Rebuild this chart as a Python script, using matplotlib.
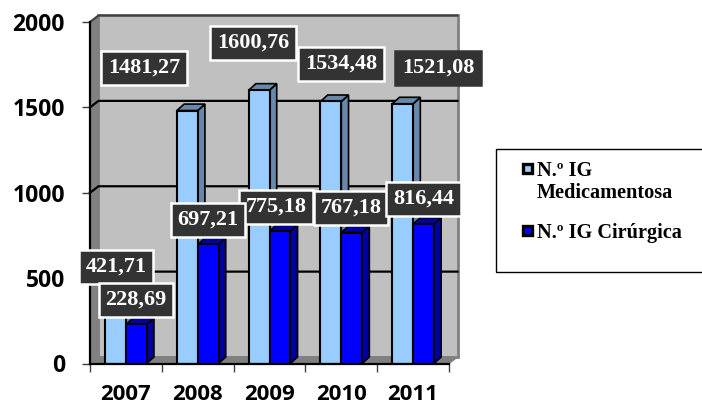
import matplotlib
matplotlib.use("Agg")
import matplotlib.pyplot as plt
from matplotlib.patches import Rectangle, FancyBboxPatch

years = ["2007", "2008", "2009", "2010", "2011"]
medicamentosa = [421.71, 1481.27, 1600.76, 1534.48, 1521.08]
cirurgica = [228.69, 697.21, 775.18, 767.18, 816.44]
y_ticks = [0, 500, 1000, 1500, 2000]

W, H = 702, 407
SERIF = "Liberation Serif"

fig = plt.figure(figsize=(W / 100, H / 100), dpi=100)
# axes front plane, in pixels of the picture
left, right, top, bottom = 90, 449, 22, 363.5
ax = fig.add_axes([left / W, 1 - bottom / H, (right - left) / W, (bottom - top) / H])
ax.set_xlim(0, len(years))
ax.set_ylim(0, 2000)
ax.patch.set_visible(False)

# 3d depth of the chart box, in data units
dx = 8.5 / 71.8
dy = 6.5 / (341.5 / 2000)
n = len(years)

# back wall, side wall and floor
ax.fill([dx, n + dx, n + dx, dx], [dy, dy, 2000 + dy, 2000 + dy], fc="#C0C0C0", ec="#808080", lw=2,
        zorder=1, clip_on=False)
ax.fill([0, dx, dx, 0], [0, dy, 2000 + dy, 2000], fc="#808080", ec="#808080", lw=1, zorder=1.1, clip_on=False)
ax.fill([0, n, n + dx, dx], [0, 0, dy, dy], fc="#808080", ec="#808080", lw=1, zorder=1.1, clip_on=False)
ax.plot([0, dx, n + dx], [2000, 2000 + dy, 2000 + dy], color="#404040", lw=1.5, zorder=1.2, clip_on=False)

# gridlines go along the wall and down the side wall
for v in y_ticks[1:-1]:
    ax.plot([0, dx, n + dx], [v, v + dy, v + dy], color="black", lw=1.6, zorder=1.5, clip_on=False)

bar_w = 0.29


def draw_bars(xs, values, front, side, z):
    ax.bar(xs, values, width=bar_w, align="edge", color=front, edgecolor="black", lw=1.5, zorder=z + 0.1)
    for x, v in zip(xs, values):
        # side face and top face of the bar
        ax.fill([x + bar_w, x + bar_w + dx * 0.85, x + bar_w + dx * 0.85, x + bar_w],
                [0, dy, v + dy, v], fc=side, ec="black", lw=1.2, zorder=z, clip_on=False)
        ax.fill([x, x + dx * 0.85, x + bar_w + dx * 0.85, x + bar_w],
                [v, v + dy, v + dy, v], fc=side, ec="black", lw=1.2, zorder=z, clip_on=False)


draw_bars([i + 0.21 for i in range(n)], medicamentosa, "#99CCFF", "#6688AA", 2)
draw_bars([i + 0.5 for i in range(n)], cirurgica, "#0000FF", "#0000A0", 3)

# axes and ticks
for s in ["top", "right"]:
    ax.spines[s].set_visible(False)
for s in ["left", "bottom"]:
    ax.spines[s].set_linewidth(1.6)
    ax.spines[s].set_zorder(4)
ax.set_yticks(y_ticks)
ax.set_yticklabels([str(v) for v in y_ticks], fontfamily="Open Sans", fontweight="bold", fontsize=16.5)
ax.set_xticks(range(n + 1))
ax.set_xticklabels([])
ax.set_xticks([i + 0.5 for i in range(n)], minor=True)
ax.set_xticklabels(years, minor=True, fontfamily="Open Sans", fontweight="bold", fontsize=16)
ax.tick_params(axis="x", which="major", length=6, width=1, color="#404040")
ax.tick_params(axis="x", which="minor", length=0, pad=15)
ax.tick_params(axis="y", length=6, width=1, color="#404040", pad=12)

# value labels sit where the reference placed them, pixel centres, back to front
label_pos = [
    ("1481,27", 144, 68), ("1600,76", 253, 43), ("1534,48", 341, 64), ("1521,08", 438, 68),
    ("421,71", 116, 267), ("228,69", 136, 300), ("775,18", 276, 207), ("697,21", 208, 220),
    ("767,18", 351, 208), ("816,44", 423.5, 199),
]
for lab, px, py in label_pos:
    edge = "#333333" if lab == "1521,08" else "white"
    fig.text(px / W, 1 - py / H, lab, color="white", fontfamily=SERIF, fontweight="bold", fontsize=16,
             ha="center", va="center", zorder=10,
             bbox=dict(boxstyle="square,pad=0.3", fc="#333333", ec=edge, lw=1.8))

# legend box, runs off the right edge
fig.add_artist(Rectangle((495.5 / W, 1 - 272 / H), 230 / W, 123 / H, transform=fig.transFigure, fc="white",
                         ec="black", lw=1, clip_on=True))
for label, col, ypx, typx in [("N.º IG\nMedicamentosa", "#99CCFF", 169, 161), ("N.º IG Cirúrgica", "#0000FF", 231, 223)]:
    fig.add_artist(FancyBboxPatch((523.5 / W, 1 - (ypx + 4.5) / H), 9 / W, 9 / H, boxstyle="round,pad=0",
                                  transform=fig.transFigure, fc=col, ec="black", lw=2.4))
    fig.text(537 / W, 1 - typx / H, label, color="black", fontfamily=SERIF, fontweight="bold", fontsize=14.6,
             ha="left", va="top", linespacing=1.1)

fig.savefig("out.png", dpi=100)
